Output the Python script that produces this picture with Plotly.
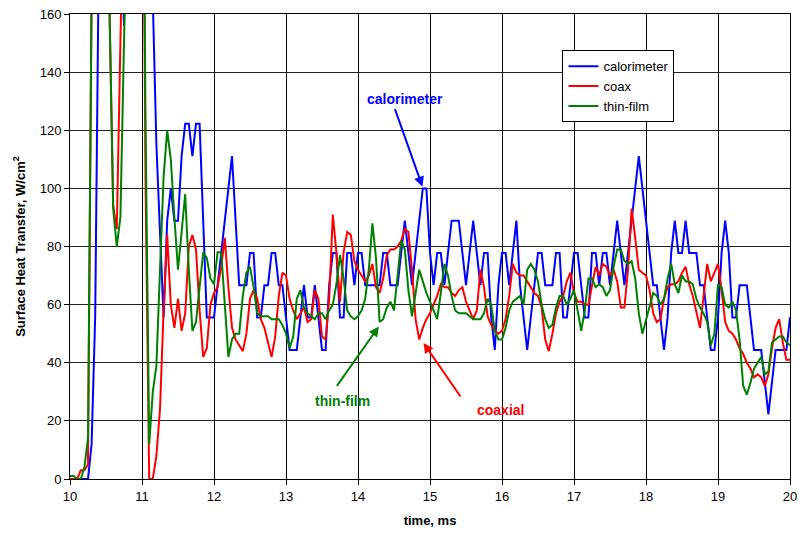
import numpy as np
import plotly.graph_objects as go

# Sample times (ms), 0.05 ms spacing
time_ms = np.round(np.arange(10.0, 20.0 + 1e-9, 0.05), 2)

# Calorimeter heat transfer (W/cm^2), quantized in 11.1 steps
calorimeter = [
    0, 0, 0, 0, 0, 0, 12, 56, 180, 260, 300, 300, 280, 240, 200, 156, 220, 280, 300, 300,
    290, 260, 230, 165, 115, 85, 55.6, 88.9, 100, 88.9, 88.9, 111.1, 122.2, 122.2, 111.1, 122.2, 122.2, 88.9, 55.6, 55.6,
    55.6, 66.7, 77.8, 88.9, 100, 111.1, 88.9, 66.7, 66.7, 66.7, 77.8, 77.8, 55.6, 55.6, 66.7, 66.7, 77.8, 77.8, 66.7, 66.7,
    55.6, 44.4, 44.4, 44.4, 55.6, 66.7, 55.6, 55.6, 66.7, 55.6, 44.4, 44.4, 66.7, 77.8, 77.8, 55.6, 55.6, 77.8, 77.8, 66.7,
    77.8, 77.8, 66.7, 66.7, 66.7, 66.7, 66.7, 77.8, 77.8, 66.7, 66.7, 66.7, 77.8, 88.9, 77.8, 66.7, 77.8, 88.9, 100, 100,
    77.8, 66.7, 77.8, 77.8, 66.7, 77.8, 88.9, 88.9, 88.9, 77.8, 66.7, 77.8, 88.9, 77.8, 66.7, 77.8, 77.8, 55.6, 44.4, 66.7,
    77.8, 77.8, 66.7, 77.8, 88.9, 66.7, 55.6, 44.4, 55.6, 66.7, 77.8, 77.8, 66.7, 66.7, 66.7, 77.8, 77.8, 55.6, 55.6, 66.7,
    77.8, 77.8, 66.7, 55.6, 55.6, 77.8, 77.8, 66.7, 77.8, 77.8, 66.7, 77.8, 88.9, 77.8, 66.7, 77.8, 88.9, 100, 111.1, 100,
    88.9, 77.8, 66.7, 66.7, 55.6, 44.4, 55.6, 77.8, 88.9, 77.8, 77.8, 88.9, 77.8, 77.8, 77.8, 66.7, 66.7, 55.6, 44.4, 44.4,
    55.6, 77.8, 88.9, 77.8, 55.6, 55.6, 66.7, 66.7, 66.7, 55.6, 44.4, 44.4, 44.4, 33.3, 22.2, 33.3, 44.4, 44.4, 44.4, 44.4,
    55.6,
]

# Coaxial gauge heat transfer (W/cm^2)
coax = [
    0, 0, 0, 3, 3, 5, 170, 280, 320, 320, 250, 160, 94, 86, 150, 280, 320, 330, 330, 320,
    280, 100, 0, 0, 8, 24, 58, 84, 60, 52, 62, 51, 57, 80, 84, 79, 58, 42, 45, 60,
    64, 66, 73, 83, 66, 52, 48, 46, 44, 50, 62, 65, 62, 55, 52, 47, 42, 49, 63, 71,
    70, 62, 58, 55, 57, 59, 54, 55, 65, 62, 49, 48, 62, 91, 78, 61, 78, 85, 84, 75,
    72, 70, 68, 70, 74, 66, 64, 69, 77, 79, 79, 80, 82, 86, 85, 72, 55, 48, 52, 55,
    57, 60, 63, 67, 66, 66, 64, 63, 65, 66, 61, 58, 55, 58, 72, 66, 56, 53, 51, 50,
    51, 55, 63, 74, 71, 70, 70, 68, 66, 64, 63, 59, 48, 44, 50, 57, 61, 63, 68, 71,
    64, 61, 61, 60, 60, 67, 73, 70, 74, 73, 70, 72, 68, 59, 59, 72, 93, 83, 72, 71,
    70, 65, 57, 54, 55, 62, 66, 67, 67, 68, 71, 73, 67, 63, 57, 52, 63, 74, 68, 71,
    74, 65, 54, 51, 50, 48, 45, 43, 40, 38, 35, 36, 35, 32, 36, 45, 52, 55, 47, 41,
    41,
]

# Thin-film gauge heat transfer (W/cm^2)
thin_film = [
    1, 1, 0, 0, 4, 14, 165, 300, 330, 330, 300, 160, 93, 80, 90, 155, 300, 330, 330, 320,
    280, 120, 12, 30, 39, 72, 104, 120, 110, 90, 72, 85, 98, 72, 51, 54, 66, 78, 76, 69,
    67, 78, 78, 58, 42, 48, 50, 50, 63, 71, 73, 66, 57, 56, 56, 56, 55, 55, 55, 53,
    50, 45, 49, 62, 65, 59, 57, 56, 55, 57, 57, 55, 58, 60, 67, 77, 69, 58, 56, 55,
    56, 58, 62, 72, 88, 76, 54, 55, 59, 61, 58, 70, 82, 79, 65, 56, 64, 72, 68, 64,
    61, 58, 55, 64, 74, 70, 63, 58, 57, 57, 57, 56, 55, 55, 55, 57, 62, 60, 51, 48,
    48, 52, 58, 61, 62, 63, 60, 72, 74, 72, 68, 60, 55, 52, 53, 59, 63, 63, 60, 62,
    65, 58, 51, 58, 69, 69, 66, 67, 66, 63, 65, 73, 79, 79, 75, 74, 75, 69, 57, 50,
    55, 60, 64, 63, 60, 62, 69, 74, 67, 64, 70, 68, 68, 67, 62, 59, 57, 54, 46, 50,
    67, 66, 60, 59, 61, 58, 48, 32, 29, 33, 38, 40, 42, 36, 37, 47, 48, 49, 49, 47,
    46,
]

series = [
    ("calorimeter", calorimeter, "#0000FF"),
    ("coax", coax, "#FF0000"),
    ("thin-film", thin_film, "#008000"),
]

fig = go.Figure()
for name, values, color in series:
    fig.add_trace(go.Scatter(
        x=time_ms, y=values, mode="lines", name=name,
        line=dict(color=color, width=2),
    ))

# Callout labels with arrows pointing into the traces
callouts = [
    # text, text position (t, q), arrow head (t, q), tail offset px, color
    ("calorimeter", (14.65, 130.7), (14.895, 100.6), (-28, -79), "#0000FF"),
    ("thin-film", (13.78, 27.0), (14.29, 52.5), (-43, 61), "#008000"),
    ("coaxial", (15.98, 23.8), (14.91, 46.8), (38, 55), "#FF0000"),
]
for text, (tx, ty), (hx, hy), (ax, ay), color in callouts:
    fig.add_annotation(
        x=tx, y=ty, xref="x", yref="y", text=f"<b>{text}</b>",
        showarrow=False, font=dict(size=14, color=color),
    )
    fig.add_annotation(
        x=hx, y=hy, xref="x", yref="y", text="",
        showarrow=True, ax=ax, ay=ay, axref="pixel", ayref="pixel",
        arrowhead=2, arrowsize=1, arrowwidth=2, arrowcolor=color,
    )

fig.update_layout(
    width=801, height=533,
    margin=dict(l=70, r=11, t=14, b=54),
    paper_bgcolor="white", plot_bgcolor="white",
    font=dict(family="Liberation Sans, Arial, sans-serif", size=13, color="black"),
    legend=dict(
        x=0.684, y=0.922, xanchor="left", yanchor="top",
        bgcolor="white", bordercolor="black", borderwidth=1,
        font=dict(size=13), tracegroupgap=0,
    ),
)
fig.update_xaxes(
    range=[10, 20], tick0=10, dtick=1, automargin=False,
    showgrid=True, gridcolor="black", gridwidth=1,
    showline=True, linecolor="black", linewidth=1, mirror=True,
    ticks="outside", ticklen=5, tickcolor="black", zeroline=False,
    title=dict(text="<b>time, ms</b>", font=dict(size=13), standoff=13),
)
fig.update_yaxes(
    range=[0, 160], tick0=0, dtick=20, automargin=False,
    showgrid=True, gridcolor="#222222", gridwidth=1,
    showline=True, linecolor="black", linewidth=1, mirror=True,
    ticks="outside", ticklen=5, tickcolor="black", zeroline=False,
    title=dict(text="<b>Surface Heat Transfer, W/cm<sup>2</sup></b>", font=dict(size=13), standoff=11),
)

fig.write_html("out.html")
